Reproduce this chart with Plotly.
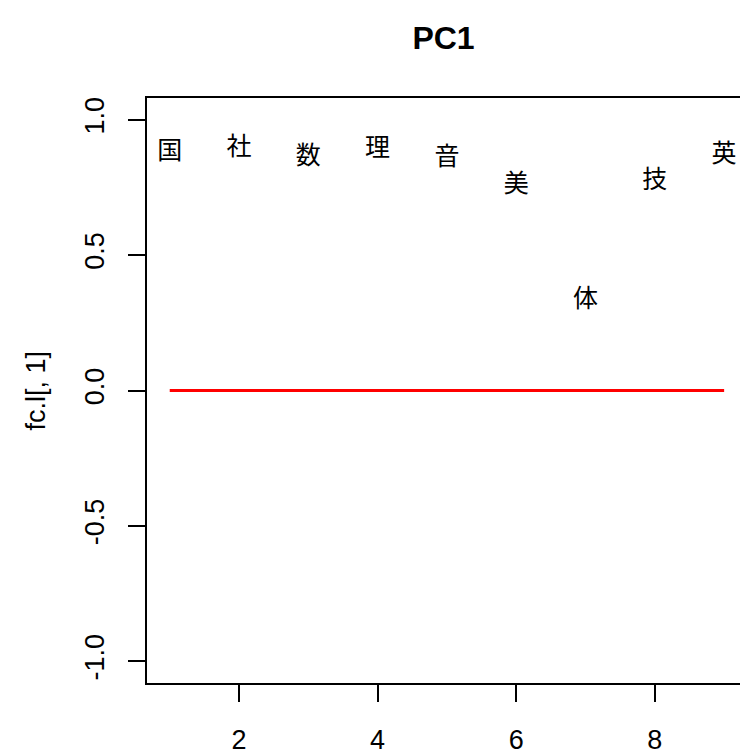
import plotly.graph_objects as go

subjects = ["国", "社", "数", "理", "音", "美", "体", "技", "英"]
index = [1, 2, 3, 4, 5, 6, 7, 8, 9]
loadings = [0.878, 0.893, 0.860, 0.889, 0.856, 0.756, 0.332, 0.771, 0.867]
zero_line = [0, 0, 0, 0, 0, 0, 0, 0, 0]
x_ticks = [2, 4, 6, 8]
y_ticks = [-1.0, -0.5, 0.0, 0.5, 1.0]
y_tick_text = ["-1.0", "-0.5", "0.0", "0.5", "1.0"]

fig = go.Figure()
fig.add_trace(go.Scatter(
    x=index, y=loadings, mode="text", text=subjects,
    textposition="middle center",
    textfont=dict(family="Noto Sans CJK JP", size=25, color="black"),
    showlegend=False, hoverinfo="skip"))
fig.add_trace(go.Scatter(
    x=index, y=zero_line, mode="lines",
    line=dict(color="#ff0000", width=3),
    showlegend=False, hoverinfo="skip"))

tick_font = dict(family="Liberation Sans, Arial", size=27, color="black")

fig.update_layout(
    width=740, height=755,
    margin=dict(l=147, r=0, t=98, b=72),
    paper_bgcolor="white", plot_bgcolor="white",
    title=dict(text="<b>PC1</b>", x=0.5, xref="paper", xanchor="center",
               y=1 - 38 / 755, yref="container", yanchor="middle",
               font=dict(family="Liberation Sans, Arial", size=32, color="black")),
    xaxis=dict(range=[0.672, 9.229], tickvals=x_ticks, ticktext=[str(v) for v in x_ticks],
               showgrid=False, zeroline=False, showline=True, linecolor="black",
               linewidth=1.5, mirror=True, ticks="outside", ticklen=17, tickwidth=1.5,
               tickcolor="black", tickfont=tick_font, ticklabelstandoff=15,
               automargin=False),
    yaxis=dict(range=[-1.08, 1.08], tickvals=y_ticks, ticktext=y_tick_text,
               showgrid=False, zeroline=False, showline=True, linecolor="black",
               linewidth=1.5, mirror=False, ticks="outside", ticklen=17, tickwidth=1.5,
               tickcolor="black", tickfont=tick_font, tickangle=-90, ticklabelstandoff=13,
               automargin=False),
    annotations=[dict(text="fc.l[, 1]", textangle=-90, xref="paper", yref="paper",
                      x=(35 - 147) / 593, y=0.5, xanchor="center", yanchor="middle",
                      showarrow=False,
                      font=dict(family="Liberation Sans, Arial", size=27, color="black"))],
)

fig.write_html("out.html")
